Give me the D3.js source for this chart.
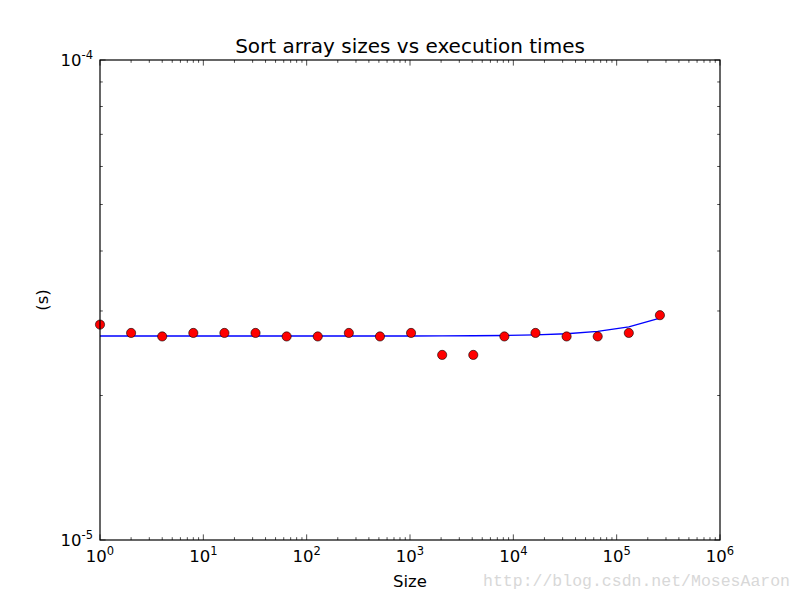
<!DOCTYPE html>
<html>
<head>
<meta charset="utf-8">
<script src="https://cdn.jsdelivr.net/npm/d3@7"></script>
<style>
  body { margin: 0; background: #fff; }
  text { font-family: "DejaVu Sans", sans-serif; }
</style>
</head>
<body>
<svg id="chart" width="800" height="600"></svg>
<script>
(function(){
const width = 800;
const height = 600;

// --- Data ---
const sizes = [1, 2, 4, 8, 16, 32, 64, 128, 256, 512, 1024, 2048, 4096,
  8192, 16384, 32768, 65536, 131072, 262144];
const times = [2.81e-5, 2.70e-5, 2.655e-5, 2.70e-5, 2.70e-5, 2.70e-5, 2.655e-5,
  2.655e-5, 2.70e-5, 2.655e-5, 2.70e-5, 2.43e-5, 2.43e-5, 2.655e-5, 2.70e-5,
  2.655e-5, 2.655e-5, 2.70e-5, 2.94e-5];
const fitTimes = [2.66e-5, 2.66e-5, 2.66e-5, 2.66e-5, 2.66e-5, 2.66e-5, 2.66e-5,
  2.66e-5, 2.66e-5, 2.66e-5, 2.661e-5, 2.662e-5, 2.664e-5, 2.668e-5, 2.675e-5,
  2.69e-5, 2.72e-5, 2.78e-5, 2.90e-5];
const xDecades = [0, 1, 2, 3, 4, 5, 6];
const yDecades = [-5, -4];

const title = "Sort array sizes vs execution times";
const xLabel = "Size";
const yLabel = "(s)";

// --- Layout ---
const margin = { left: 100, right: 80, top: 60, bottom: 60 };
const plotW = width - margin.left - margin.right;
const plotH = height - margin.top - margin.bottom;

const svg = d3.select("#chart");

const x = d3.scaleLog().domain([1, 1e6]).range([margin.left, margin.left + plotW]);
const y = d3.scaleLog().domain([1e-5, 1e-4]).range([margin.top + plotH, margin.top]);

// minor ticks
const xMinor = [];
for (let d = 0; d < 6; d++) for (let m = 2; m <= 9; m++) xMinor.push(m * Math.pow(10, d));
const yMinor = [];
for (let m = 2; m <= 9; m++) yMinor.push(m * 1e-5);

const ticks = svg.append("g")
  .attr("stroke", "#000")
  .attr("stroke-width", 0.7);

const x0 = margin.left, x1 = margin.left + plotW;
const y0 = margin.top + plotH, y1 = margin.top;

// x ticks (bottom and top, pointing inward)
xDecades.forEach(d => {
  const px = x(Math.pow(10, d));
  ticks.append("line").attr("x1", px).attr("x2", px).attr("y1", y0).attr("y2", y0 - 5.6);
  ticks.append("line").attr("x1", px).attr("x2", px).attr("y1", y1).attr("y2", y1 + 5.6);
});
xMinor.forEach(v => {
  const px = x(v);
  ticks.append("line").attr("x1", px).attr("x2", px).attr("y1", y0).attr("y2", y0 - 2.8);
  ticks.append("line").attr("x1", px).attr("x2", px).attr("y1", y1).attr("y2", y1 + 2.8);
});
// y ticks (left and right)
yDecades.forEach(d => {
  const py = y(Math.pow(10, d));
  ticks.append("line").attr("y1", py).attr("y2", py).attr("x1", x0).attr("x2", x0 + 5.6);
  ticks.append("line").attr("y1", py).attr("y2", py).attr("x1", x1).attr("x2", x1 - 5.6);
});
yMinor.forEach(v => {
  const py = y(v);
  ticks.append("line").attr("y1", py).attr("y2", py).attr("x1", x0).attr("x2", x0 + 2.8);
  ticks.append("line").attr("y1", py).attr("y2", py).attr("x1", x1).attr("x2", x1 - 2.8);
});

// --- Fit line ---
const line = d3.line()
  .x((d, i) => x(sizes[i]))
  .y(d => y(d));

svg.append("path")
  .datum(fitTimes)
  .attr("d", line)
  .attr("fill", "none")
  .attr("stroke", "#0000ff")
  .attr("stroke-width", 1.4);

// --- Points ---
svg.append("g")
  .selectAll("circle")
  .data(times)
  .enter()
  .append("circle")
  .attr("cx", (d, i) => x(sizes[i]))
  .attr("cy", d => y(d))
  .attr("r", 4.6)
  .attr("fill", "#ff0000")
  .attr("stroke", "#000")
  .attr("stroke-width", 0.6);

// --- Frame ---
svg.append("rect")
  .attr("x", x0).attr("y", y1)
  .attr("width", plotW).attr("height", plotH)
  .attr("fill", "none")
  .attr("stroke", "#000")
  .attr("stroke-width", 1.2);

// --- Tick labels ---
const xl = svg.append("g");
xDecades.forEach(d => {
  const t = xl.append("text")
    .attr("x", x(Math.pow(10, d)))
    .attr("y", 562)
    .attr("text-anchor", "middle")
    .attr("font-size", 16.5);
  t.append("tspan").text("10");
  t.append("tspan").attr("dy", -7).attr("font-size", 11.5).text(d);
});

const yl = svg.append("g");
yDecades.forEach(d => {
  const t = yl.append("text")
    .attr("x", 93)
    .attr("y", y(Math.pow(10, d)) + 6)
    .attr("text-anchor", "end")
    .attr("font-size", 16.5);
  t.append("tspan").text("10");
  t.append("tspan").attr("dy", -7).attr("font-size", 11.5).text(d);
});

// --- Titles ---
svg.append("text")
  .attr("x", margin.left + plotW / 2)
  .attr("y", 53)
  .attr("text-anchor", "middle")
  .attr("font-size", 20)
  .text(title);

svg.append("text")
  .attr("x", margin.left + plotW / 2)
  .attr("y", 587)
  .attr("text-anchor", "middle")
  .attr("font-size", 16.5)
  .text(xLabel);

svg.append("text")
  .attr("transform", `translate(48, ${margin.top + plotH / 2}) rotate(-90)`)
  .attr("text-anchor", "middle")
  .attr("font-size", 16.5)
  .text(yLabel);

// --- Watermark ---
svg.append("text")
  .attr("x", 790)
  .attr("y", 586)
  .attr("text-anchor", "end")
  .style("font-family", "'Liberation Mono', monospace")
  .attr("font-size", 16.5)
  .attr("fill", "#d8d8d8")
  .text("http://blog.csdn.net/MosesAaron");
})();
</script>
</body>
</html>
